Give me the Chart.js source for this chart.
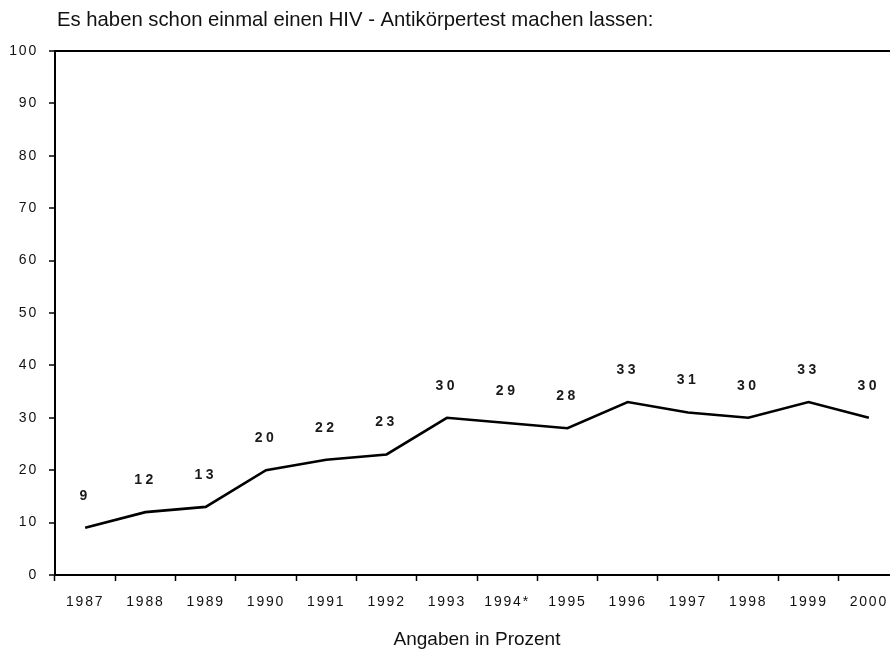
<!DOCTYPE html>
<html>
<head>
<meta charset="utf-8">
<script src="https://cdn.jsdelivr.net/npm/chart.js@4.4.0/dist/chart.umd.min.js"></script>
<style>
  html, body { margin: 0; padding: 0; background: #fff; overflow: hidden; }
  #wrap { width: 890px; height: 651px; overflow: hidden; }
  #chart { display: block; }
</style>
</head>
<body>
<div id="wrap"><canvas id="chart" width="910" height="651"></canvas></div>
<script>
const years = ['1987', '1988', '1989', '1990', '1991', '1992', '1993', '1994*', '1995', '1996', '1997', '1998', '1999', '2000'];
const tested = [9, 12, 13, 20, 22, 23, 30, 29, 28, 33, 31, 30, 33, 30];
const yMin = 0;
const yMax = 100;
const yStep = 10;
const titleText = 'Es haben schon einmal einen HIV - Antikörpertest machen lassen:';
const axisTitle = 'Angaben in Prozent';

const FONT = '"Liberation Sans", Arial, sans-serif';

// letter-spaced numbers everywhere, plain titles drawn last
const spacedText = {
    id: 'spacedText',
    beforeDraw(chart) {
        chart.ctx.letterSpacing = '1.8px';
    },
    afterDatasetsDraw(chart) {
        const ctx = chart.ctx;
        const meta = chart.getDatasetMeta(0);
        ctx.save();
        ctx.font = 'bold 14px ' + FONT;
        ctx.letterSpacing = '3.5px';
        ctx.fillStyle = '#1a1a1a';
        ctx.textAlign = 'center';
        ctx.textBaseline = 'middle';
        meta.data.forEach((pt, i) => {
            ctx.fillText(String(tested[i]), pt.x, pt.y - 32);
        });
        ctx.restore();
    },
    afterDraw(chart) {
        const ctx = chart.ctx;
        const area = chart.chartArea;
        ctx.save();
        ctx.letterSpacing = '0px';
        ctx.fillStyle = '#111';
        ctx.textBaseline = 'alphabetic';
        ctx.font = '20.3px ' + FONT;
        ctx.textAlign = 'left';
        ctx.fillText(titleText, area.left + 2, area.top - 25);
        ctx.font = '19px ' + FONT;
        ctx.textAlign = 'center';
        ctx.fillText(axisTitle, (area.left + area.right) / 2, area.bottom + 70);
        ctx.restore();
    }
};

const ctx = document.getElementById('chart').getContext('2d');
new Chart(ctx, {
    type: 'line',
    data: {
        labels: years,
        datasets: [{
            data: tested,
            borderColor: '#000',
            borderWidth: 2.6,
            pointRadius: 0,
            tension: 0,
            fill: false
        }]
    },
    options: {
        responsive: false,
        animation: false,
        layout: { padding: { top: 51, right: 11, left: 0, bottom: 0 } },
        plugins: {
            legend: { display: false },
            tooltip: { enabled: false },
            title: { display: false }
        },
        scales: {
            x: {
                offset: true,
                afterFit(scale) { scale.height = 76; },
                grid: {
                    offset: true,
                    drawOnChartArea: false,
                    tickLength: 6,
                    tickColor: '#000',
                    tickWidth: 1.5
                },
                border: { display: true, color: '#000', width: 2 },
                ticks: {
                    color: '#111',
                    font: { family: FONT, size: 14 },
                    padding: 13,
                    maxRotation: 0,
                    autoSkip: false
                }
            },
            y: {
                min: yMin,
                max: yMax,
                afterFit(scale) { scale.width = 55; },
                grid: {
                    color: c => (c.tick && c.tick.value === yMax ? '#000' : 'rgba(0,0,0,0)'),
                    lineWidth: 2,
                    tickLength: 6,
                    tickColor: '#000',
                    tickWidth: 1.5
                },
                border: { display: true, color: '#000', width: 2 },
                ticks: {
                    stepSize: yStep,
                    color: '#111',
                    font: { family: FONT, size: 14 },
                    padding: 11
                }
            }
        }
    },
    plugins: [spacedText]
});
</script>
</body>
</html>
